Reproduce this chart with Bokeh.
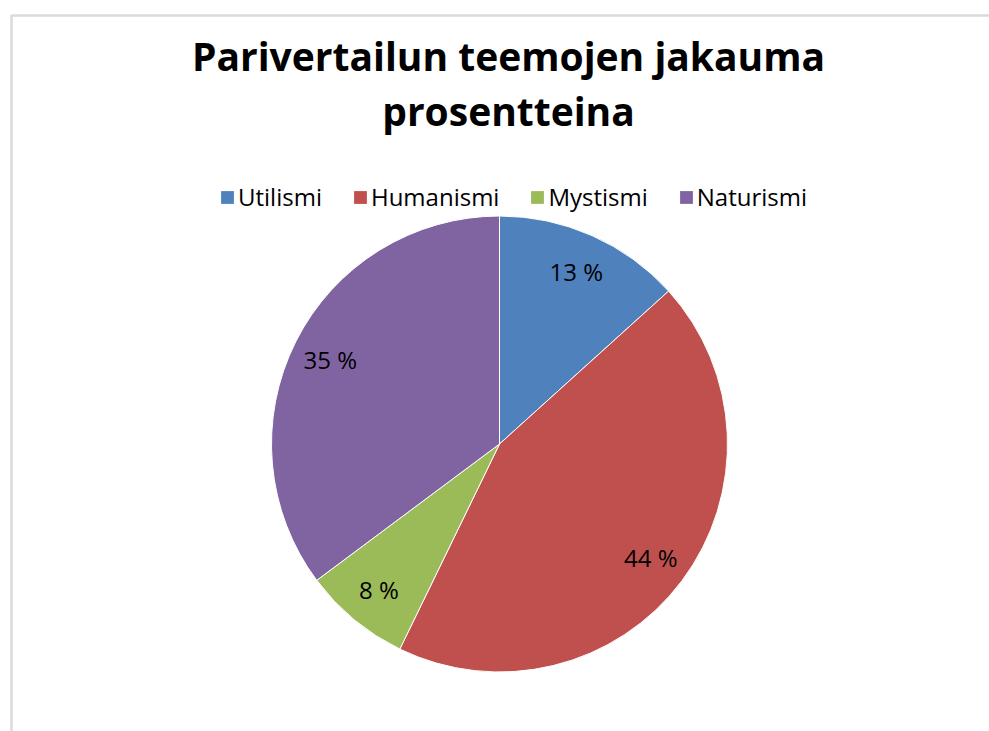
import math
from bokeh.plotting import figure
from bokeh.models import Range1d, BoxAnnotation, ColumnDataSource, Legend, LegendItem
from bokeh.core.properties import value
from bokeh.embed import file_html
from bokeh.resources import INLINE

title_lines = ["Parivertailun teemojen jakauma", "prosentteina"]
categories = ["Utilismi", "Humanismi", "Mystismi", "Naturismi"]
shares = [13.3, 43.9, 7.6, 35.2]
labels = ["13 %", "44 %", "8 %", "35 %"]
colors = ["#4F81BD", "#C0504D", "#9BBB59", "#8064A2"]

W, H = 989, 731
CX, CY = 499, H - 443.5
R = 228
FONT = "Open Sans"

p = figure(width=W, height=H, x_range=Range1d(0, W), y_range=Range1d(0, H),
           output_backend="svg", toolbar_location=None, min_border=0)
p.axis.visible = False
p.grid.visible = False
p.outline_line_color = None
p.background_fill_color = "white"

# chart frame
p.add_layout(BoxAnnotation(left=11, right=W + 20, top=H - 15, bottom=-20,
                           fill_alpha=0, line_color="#868686", line_width=2.5))

total = sum(shares)
starts, ends, lx, ly = [], [], [], []
cum = 0.0
for s in shares:
    a0 = cum / total
    cum += s
    a1 = cum / total
    starts.append(math.pi / 2 - a1 * 2 * math.pi)
    ends.append(math.pi / 2 - a0 * 2 * math.pi)
    mid = math.pi / 2 - (a0 + a1) / 2 * 2 * math.pi
    lx.append(CX + 0.83 * R * math.cos(mid))
    ly.append(CY + 0.83 * R * math.sin(mid))

src = ColumnDataSource(dict(cat=categories, start=starts, end=ends, color=colors,
                            lx=lx, ly=ly, label=labels))
p.wedge(x=CX, y=CY, radius=R, start_angle="start", end_angle="end",
        fill_color="color", line_color="white", line_width=1, source=src)

p.text(x="lx", y="ly", text="label", source=src, text_font=value(FONT),
       text_font_size="24px", text_color="black", text_align="center",
       text_baseline="middle")

# title
p.text(x=[508, 508], y=[H - 55, H - 110], text=title_lines, text_font=value(FONT),
       text_font_size="39px", text_font_style="bold", text_color="black",
       text_align="center", text_baseline="middle")

# legend swatches: off-canvas squares used only for legend glyphs
items = []
for c, col in zip(categories, colors):
    r = p.rect(x=[-500], y=[-500], width=1, height=1, fill_color=col, line_color=None)
    items.append(LegendItem(label=c, renderers=[r]))

legend = Legend(items=items, orientation="horizontal", location=(219, H - 213),
                label_text_font=FONT, label_text_font_size="24px",
                label_text_color="black",
                glyph_width=16, glyph_height=16, label_standoff=3, spacing=30,
                padding=0, margin=0, border_line_color=None,
                background_fill_alpha=0)
p.add_layout(legend, "center")

open("out.html", "w").write(file_html(p, INLINE))
